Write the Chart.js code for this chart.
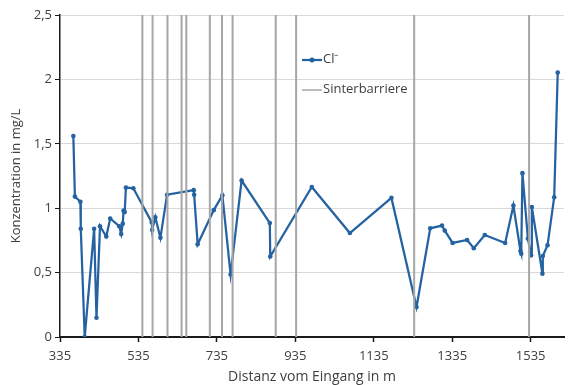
<!DOCTYPE html>
<html>
<head>
<meta charset="utf-8">
<script src="https://cdn.jsdelivr.net/npm/chart.js@4/dist/chart.umd.min.js"></script>
<style>
html,body{margin:0;padding:0;background:#fff;}
#wrap{position:relative;width:568px;height:385px;}
</style>
</head>
<body>
<div id="wrap"><canvas id="c" width="568" height="385"></canvas></div>
<script>
// Distance from entrance (m)
const distances = [369,373,387,388,398,422,428,437,453,463,486,491,495,497,500,503,522,
  569,570,578,591,608,676,677,686,727,749,770,798,870,871,977,1074,1180,
  1244,1279,1309,1316,1336,1373,1390,1418,1470,1491,1509,1511,1514,1528,1536,1538,
  1565,1566,1578,1595,1604];
// Chloride concentration (mg/L)
const chloride = [1.56,1.09,1.05,0.84,0.0,0.84,0.15,0.86,0.78,0.92,0.86,0.80,0.88,0.98,0.97,1.16,1.155,
  0.89,0.83,0.93,0.77,1.105,1.14,1.105,0.72,0.985,1.10,0.485,1.215,0.885,0.625,1.165,0.807,1.08,
  0.233,0.844,0.865,0.826,0.73,0.753,0.69,0.792,0.73,1.02,0.668,0.647,1.272,0.764,0.634,1.009,
  0.492,0.629,0.712,1.085,2.053];
// Sinter barrier positions (m)
const barriers = [545,571,609,645,657,717,748,775,885,937,1238,1531];
const xTicks = [335,535,735,935,1135,1335,1535];
const yTicks = [0,0.5,1,1.5,2,2.5];
const seriesLabels = ['Cl\u207B','Sinterbarriere'];
const xTitle = 'Distanz vom Eingang in m';
const yTitle = 'Konzentration in mg/L';

const FONT = "'Open Sans', sans-serif";
const BLUE = '#2462a2';
const GRAY = '#a6a6a6';

const clData = distances.map((d,i)=>({x:d,y:chloride[i]}));
const barData = [];
barriers.forEach(b=>{ barData.push({x:b,y:yTicks[0]}); barData.push({x:b,y:yTicks[yTicks.length-1]}); barData.push({x:b,y:null}); });

const legendPlugin = {
  id:'customLegend',
  afterDraw(chart){
    const ctx = chart.ctx;
    const x0 = 302, x1 = 322;
    ctx.save();
    ctx.strokeStyle = BLUE; ctx.lineWidth = 2.25;
    ctx.beginPath(); ctx.moveTo(x0,60); ctx.lineTo(x1,60); ctx.stroke();
    ctx.fillStyle = BLUE; ctx.beginPath(); ctx.arc((x0+x1)/2,60,2.5,0,Math.PI*2); ctx.fill();
    ctx.strokeStyle = GRAY; ctx.lineWidth = 1.5;
    ctx.beginPath(); ctx.moveTo(x0,90); ctx.lineTo(x1,90); ctx.stroke();
    ctx.fillStyle = '#404040';
    ctx.font = "13px " + FONT;
    ctx.textBaseline = 'middle';
    ctx.fillText(seriesLabels[0], x1+1, 59);
    ctx.fillText(seriesLabels[1], x1+1, 89);
    ctx.restore();
  }
};

new Chart(document.getElementById('c'), {
  type:'scatter',
  data:{
    datasets:[
      {label:seriesLabels[1], data:barData, showLine:true, spanGaps:false, borderColor:GRAY, borderWidth:2,
       pointRadius:0, pointHoverRadius:0, order:0},
      {label:seriesLabels[0], data:clData, showLine:true, borderColor:BLUE, backgroundColor:BLUE,
       borderWidth:2.25, pointRadius:2.3, pointBorderWidth:0, pointStyle:'circle', tension:0, order:1}
    ]
  },
  options:{
    responsive:false, animation:false, devicePixelRatio:1,
    layout:{padding:{left:8,top:15,right:2,bottom:0}},
    plugins:{legend:{display:false}, tooltip:{enabled:false}},
    scales:{
      x:{type:'linear', min:335, max:1620,
        afterBuildTicks(s){ s.ticks = xTicks.map(v=>({value:v})); },
        afterFit(s){ s.height = 48; },
        grid:{drawOnChartArea:false, tickLength:5, tickColor:'#1a1a1a', tickWidth:1.5},
        border:{color:'#1a1a1a', width:2},
        ticks:{color:'#404040', font:{family:FONT,size:13}, padding:6, maxRotation:0, autoSkip:false,
          callback:v=>String(v)},
        title:{display:true, text:xTitle, color:'#404040', font:{family:FONT,size:14}, padding:{top:0,bottom:0}}
      },
      y:{min:0, max:2.5,
        afterBuildTicks(s){ s.ticks = yTicks.map(v=>({value:v})); },
        afterFit(s){ s.width = 52; },
        grid:{color:'#d9d9d9', lineWidth:1, tickLength:5, tickColor:'#1a1a1a'},
        border:{color:'#1a1a1a', width:1.5},
        ticks:{color:'#404040', font:{family:FONT,size:13}, padding:3,
          callback:v=>String(v).replace('.',',')},
        title:{display:true, text:yTitle, color:'#404040', font:{family:FONT,size:13}, padding:{top:0,bottom:2}}
      }
    }
  },
  plugins:[legendPlugin]
});
</script>
</body>
</html>
